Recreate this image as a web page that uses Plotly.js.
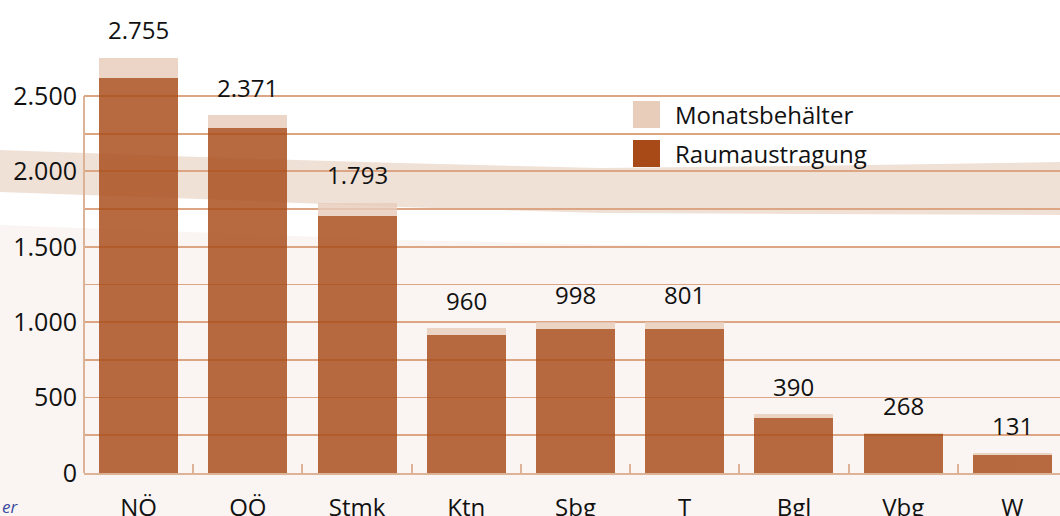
<!DOCTYPE html>
<html>
<head>
<meta charset="utf-8">
<script src="https://cdn.plot.ly/plotly-3.0.1.min.js"></script>
<style>html,body{margin:0;padding:0;background:#fff;}#chart{width:1060px;height:516px;}</style>
</head>
<body>
<div id="chart"></div>
<script>
// ---- data ----
const categories = ['NÖ', 'OÖ', 'Stmk', 'Ktn', 'Sbg', 'T', 'Bgl', 'Vbg', 'W'];
const raumaustragung = [2620, 2290, 1705, 913, 952, 952, 364, 258, 119];
const monatsbehaelter = [135, 81, 88, 47, 46, 46, 26, 6, 12];
const totalLabels = ['2.755', '2.371', '1.793', '960', '998', '801', '390', '268', '131'];
const seriesNames = ['Monatsbehälter', 'Raumaustragung'];
const yTicks = [0, 500, 1000, 1500, 2000, 2500];
const yMinorTicks = [250, 750, 1250, 1750, 2250];

// ---- styles / geometry ----
const FONT = '"Open Sans", "Noto Sans", sans-serif';
const C_RAUM = '#a84a17';
const C_MON = '#e8cdbb';
const C_GRID = '#dca684';
const C_AXIS = '#dcb396';
const W = 1060, H = 516;
const M = {l: 84, r: 0, t: 10, b: 43};
const plotW = W - M.l - M.r, plotH = H - M.t - M.b;
const px = X => (X - M.l) / plotW;          // pixel -> paper x
const py = Y => (H - M.b - Y) / plotH;      // pixel -> paper y
const Y_TOP = 3070;                          // axis top so 2500 sits near the top grid position

const totals = raumaustragung.map((v, i) => v + monatsbehaelter[i]);

const traces = [
  {
    type: 'bar', name: seriesNames[1], x: categories, y: raumaustragung,
    marker: {color: C_RAUM, line: {width: 0}}, opacity: 0.82, hoverinfo: 'skip'
  },
  {
    type: 'bar', name: seriesNames[0], x: categories, y: monatsbehaelter,
    marker: {color: C_MON, line: {width: 0}}, opacity: 0.82, hoverinfo: 'skip'
  }
];

const annotations = categories.map((c, i) => ({
  x: c, y: totals[i], xref: 'x', yref: 'y', text: totalLabels[i],
  showarrow: false, yshift: 28, yanchor: 'middle',
  font: {family: FONT, size: 24, color: '#111'}
}));

function pathFrom(points) {
  return points.map((p, i) => (i ? 'L' : 'M') + px(p[0]).toFixed(4) + ',' + py(p[1]).toFixed(4)).join(' ') + ' Z';
}

const shapes = [];
// decorative background band
shapes.push({
  type: 'path', xref: 'paper', yref: 'paper', layer: 'below', line: {width: 0},
  fillcolor: '#f0e1d7',
  path: pathFrom([[0,150],[200,157],[400,163],[600,168],[800,166],[1060,162],
                  [1060,215],[800,214],[600,213],[400,207],[200,199],[0,192]])
});
// lower pink region
shapes.push({
  type: 'path', xref: 'paper', yref: 'paper', layer: 'below', line: {width: 0},
  fillcolor: '#faf5f2',
  path: pathFrom([[0,225],[400,240],[750,248],[1060,248],[1060,520],[0,520]])
});
// y axis line (only up to the top gridline)
shapes.push({
  type: 'line', xref: 'paper', yref: 'y', x0: 0, x1: 0, y0: 0, y1: yTicks[yTicks.length - 1],
  line: {color: C_AXIS, width: 2}, layer: 'above'
});
// manual legend with large swatches
const legendRows = [[101, 128], [140, 167]];
const legendColors = [C_MON, C_RAUM];
seriesNames.forEach((n, i) => {
  shapes.push({
    type: 'rect', xref: 'paper', yref: 'paper', layer: 'above', line: {width: 0},
    fillcolor: legendColors[i],
    x0: px(633), x1: px(660), y0: py(legendRows[i][1]), y1: py(legendRows[i][0])
  });
  annotations.push({
    xref: 'paper', yref: 'paper', x: px(673), y: py((legendRows[i][0] + legendRows[i][1]) / 2),
    xanchor: 'left', yanchor: 'middle',
    text: n, showarrow: false, font: {family: FONT, size: 24, color: '#111'}
  });
});
annotations.push({
  xref: 'paper', yref: 'paper', x: px(0), y: py(506), xanchor: 'left', yanchor: 'middle',
  text: '<i>er</i>', showarrow: false, font: {family: FONT, size: 17, color: '#3a4a9e'}
});

const layout = {
  width: W, height: H,
  margin: {l: M.l, r: M.r, t: M.t, b: M.b, pad: 0},
  paper_bgcolor: '#ffffff', plot_bgcolor: 'rgba(0,0,0,0)',
  separators: ',.',
  barmode: 'stack', bargap: 0.277,
  showlegend: false,
  font: {family: FONT, size: 24, color: '#111'},
  xaxis: {
    type: 'category', range: [-0.5, 8.436], fixedrange: true,
    showgrid: false, zeroline: false,
    showline: true, linecolor: C_AXIS, linewidth: 2,
    ticks: 'inside', tickson: 'boundaries', ticklen: 9, tickwidth: 2, tickcolor: C_AXIS,
    ticklabelstandoff: 12,
    tickfont: {family: FONT, size: 24, color: '#111'}
  },
  yaxis: {
    range: [0, Y_TOP], fixedrange: true,
    tickmode: 'array', tickvals: yTicks, tickformat: ',d',
    showgrid: true, gridcolor: C_GRID, gridwidth: 1.8,
    minor: {tickmode: 'array', tickvals: yMinorTicks, showgrid: true, gridcolor: C_GRID, gridwidth: 1.8, ticks: ''},
    zeroline: false, showline: false,
    ticks: '', ticklabelstandoff: 6,
    tickfont: {family: FONT, size: 25, color: '#111'}
  },
  annotations: annotations,
  shapes: shapes
};

Plotly.newPlot('chart', traces, layout, {displayModeBar: false, staticPlot: true});
</script>
</body>
</html>
